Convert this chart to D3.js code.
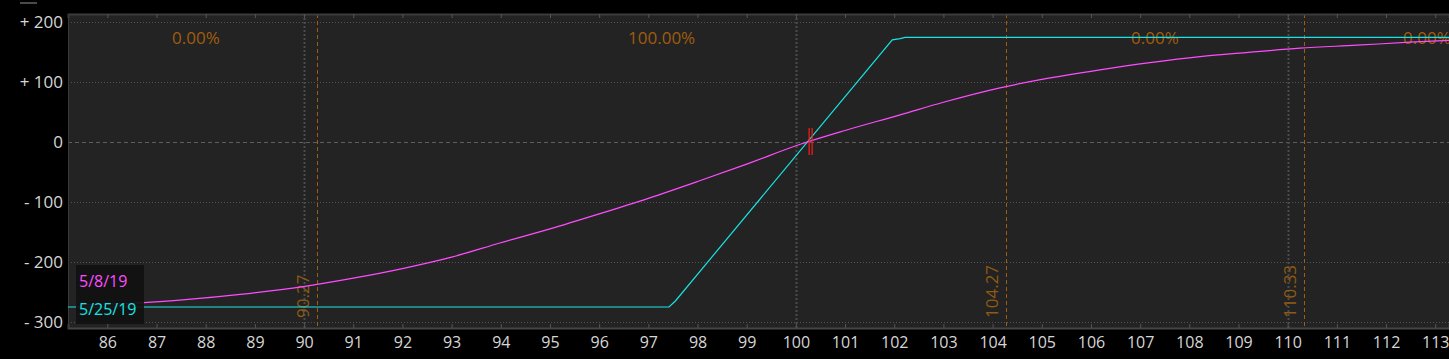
<!DOCTYPE html>
<html>
<head>
<meta charset="utf-8">
<script src="https://cdn.jsdelivr.net/npm/d3@7"></script>
<style>
  html, body { margin: 0; padding: 0; background: #000; }
  svg { display: block; font-family: "Open Sans", "Noto Sans", sans-serif; }
</style>
</head>
<body>
<svg width="1449" height="359"></svg>
<script>
// price ticks along the bottom
var priceTicks = [86, 87, 88, 89, 90, 91, 92, 93, 94, 95, 96, 97, 98, 99, 100,
                  101, 102, 103, 104, 105, 106, 107, 108, 109, 110, 111, 112, 113];
var plTicks = [200, 100, 0, -100, -200, -300];
var gridPrices = [90, 100, 110];

// 5/8/19 curve (price, P/L)
var todayPrice = [85.45, 86.67, 87.7, 88.7, 89.98, 91, 92, 93, 94, 95, 96, 97, 98, 99,
                  100.09, 101, 102.12, 103, 104.15, 105, 106.18, 107.2, 108.22, 109.2, 110.25, 111.4, 112.48, 113.28];
var todayPL = [-271, -268, -262, -254, -241, -227, -211, -192, -168, -145, -120, -94, -66, -37,
               -4, 19, 45, 66, 90, 104, 120, 132, 142, 149, 156, 161, 166, 169];

// 5/25/19 expiration (price, P/L)
var expPrice = [85.2, 97.42, 97.55, 101.96, 102.12, 102.22, 113.28];
var expPL = [-275, -275, -265, 170, 172, 174, 174];

// probability zones and their boundaries
var zoneEdges = [90.27, 104.27, 110.33];
var zoneLabels = ["0.00%", "100.00%", "0.00%", "0.00%"];
var zoneCenters = [87.8, 97.27, 107.3, 112.83];

var currentPrice = 100.3;
var legendNames = ["5/8/19", "5/25/19"];
var lineColors = ["#ff4cff", "#19e3e3"];

var svg = d3.select("svg");
var plotL = 68, plotR = 1449, plotT = 14, plotB = 328;

var x = d3.scaleLinear().domain([85.2, 113.28]).range([plotL, plotR]);
var y = d3.scaleLinear().domain([-310, 213]).range([plotB, plotT]);

// plot background
svg.append("rect")
  .attr("x", plotL).attr("y", plotT)
  .attr("width", plotR - plotL).attr("height", plotB - plotT)
  .attr("fill", "#232323");

// little scroller mark at the top left
svg.append("rect").attr("x", 20).attr("y", 2).attr("width", 17).attr("height", 2).attr("fill", "#4a4a4a");

// horizontal grid
svg.append("g").selectAll("line")
  .data(plTicks)
  .enter().append("line")
  .attr("x1", plotL).attr("x2", plotR)
  .attr("y1", function(d) { return Math.round(y(d)) + 0.5; })
  .attr("y2", function(d) { return Math.round(y(d)) + 0.5; })
  .attr("stroke", function(d) { return d === 0 ? "#5e5e5e" : "#525252"; })
  .attr("stroke-dasharray", function(d) { return d === 0 ? "4,3" : "1,2"; });

// vertical grid
svg.append("g").selectAll("line")
  .data(gridPrices)
  .enter().append("line")
  .attr("x1", function(d) { return Math.round(x(d)) + 0.5; })
  .attr("x2", function(d) { return Math.round(x(d)) + 0.5; })
  .attr("y1", plotT).attr("y2", plotB)
  .attr("stroke", "#4c4c4c")
  .attr("stroke-width", 2)
  .attr("stroke-dasharray", "2,2");

// zone boundaries
svg.append("g").selectAll("line")
  .data(zoneEdges)
  .enter().append("line")
  .attr("x1", function(d) { return Math.round(x(d)) + 0.5; })
  .attr("x2", function(d) { return Math.round(x(d)) + 0.5; })
  .attr("y1", plotT).attr("y2", plotB)
  .attr("stroke", "#a35c0c")
  .attr("stroke-dasharray", "4,3");

svg.append("g").selectAll("text")
  .data(zoneEdges)
  .enter().append("text")
  .attr("transform", function(d) { return "translate(" + (x(d) - 8) + ",318) rotate(-90)"; })
  .attr("fill", "#8f5a14")
  .style("font-size", "17px")
  .text(function(d) { return d.toFixed(2); });

svg.append("g").selectAll("text")
  .data(zoneLabels)
  .enter().append("text")
  .attr("x", function(d, i) { return x(zoneCenters[i]); })
  .attr("y", 44)
  .attr("text-anchor", "middle")
  .attr("fill", "#a05d0e")
  .style("font-size", "17px")
  .text(function(d) { return d; });

// border axes
var bottomAxis = d3.axisBottom(x).tickValues(priceTicks).tickSize(-4).tickPadding(9)
  .tickFormat(d3.format("d"));
var gb = svg.append("g").attr("transform", "translate(0," + plotB + ")").call(bottomAxis);
gb.select(".domain").attr("stroke", "#444").attr("stroke-width", 2);
gb.selectAll(".tick line").attr("stroke", "#555");
gb.selectAll("text").attr("fill", "#d6d6d6").style("font-size", "16px").style("font-family", "'Open Sans', sans-serif");

var topAxis = d3.axisTop(x).tickValues(priceTicks).tickSize(-4).tickFormat("");
var gt = svg.append("g").attr("transform", "translate(0," + plotT + ")").call(topAxis);
gt.select(".domain").attr("stroke", "#3c3c3c").attr("stroke-width", 2);
gt.selectAll(".tick line").attr("stroke", "#555");

svg.append("line").attr("x1", plotL + 0.5).attr("x2", plotL + 0.5).attr("y1", plotT).attr("y2", plotB + 1)
  .attr("stroke", "#3a3a3a");

var leftAxis = d3.axisLeft(y).tickValues(plTicks).tickSize(0).tickPadding(5)
  .tickFormat(function(d) { return d > 0 ? "+ " + d : d < 0 ? "- " + (-d) : "0"; });
var gl = svg.append("g").attr("transform", "translate(" + plotL + ",0)").call(leftAxis);
gl.select(".domain").remove();
gl.selectAll("text").attr("fill", "#d6d6d6").style("font-size", "17px").style("font-family", "'Open Sans', sans-serif");

// lines
var line = d3.line()
  .x(function(d) { return x(d[0]); })
  .y(function(d) { return y(d[1]); });

svg.append("path")
  .datum(expPrice.map(function(p, i) { return [p, expPL[i]]; }))
  .attr("d", line)
  .attr("fill", "none")
  .attr("stroke", lineColors[1])
  .attr("stroke-width", 1.2);

svg.append("path")
  .datum(todayPrice.map(function(p, i) { return [p, todayPL[i]]; }))
  .attr("d", line.curve(d3.curveMonotoneX))
  .attr("fill", "none")
  .attr("stroke", lineColors[0])
  .attr("stroke-width", 1.2);

// current price marker
svg.append("g").selectAll("line")
  .data([currentPrice - 0.03, currentPrice + 0.03])
  .enter().append("line")
  .attr("x1", function(d) { return x(d); })
  .attr("x2", function(d) { return x(d); })
  .attr("y1", y(23)).attr("y2", y(-22))
  .attr("stroke", "#ff1a1a")
  .attr("stroke-width", 1.2);

// legend
var legend = svg.append("g");
legend.append("rect")
  .attr("x", 76).attr("y", 265).attr("width", 68).attr("height", 59)
  .attr("fill", "#111").attr("fill-opacity", 0.92);
legend.selectAll("text")
  .data(legendNames)
  .enter().append("text")
  .attr("x", 79)
  .attr("y", function(d, i) { return 287 + i * 28; })
  .attr("fill", function(d, i) { return lineColors[i]; })
  .style("font-size", "16px")
  .text(function(d) { return d; });
</script>
</body>
</html>
